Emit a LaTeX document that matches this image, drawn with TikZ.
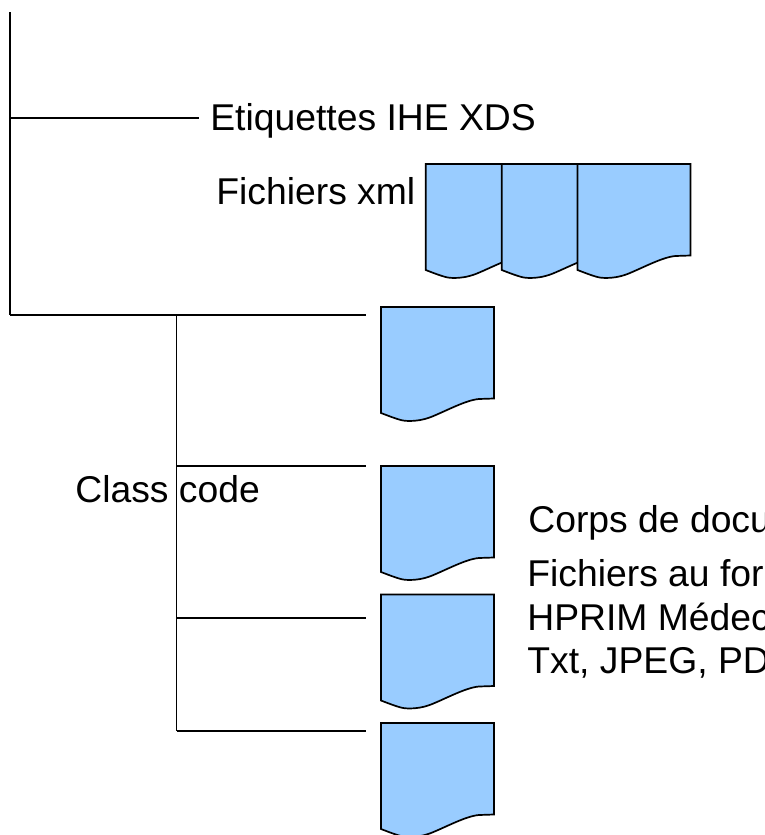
\documentclass[tikz,border=0pt]{standalone}
\usepackage{fontspec}
\setmainfont{Liberation Sans}
\usetikzlibrary{positioning}
\definecolor{docblue}{HTML}{99CCFF}
\newcommand{\docpage}[2]{
        \begin{scope}[shift={(#2)}]
            \node[docbox] (#1) at (0, 0) {};
            \draw[docline] (0, 0) -- (113, 0) -- (113, 91.5) -- (98, 92) .. controls (85, 93) and (65, 104) .. (50, 110) .. controls (42, 113) and (35, 114) .. (28, 114) .. controls (22, 114) and (18, 113) .. (0, 106) -- cycle;
        \end{scope}
}
\begin{document}
\begin{tikzpicture}[x=1pt, y=-1pt, line width=1.7pt,
        lbl/.style={anchor=base west, inner ysep=0pt, inner xsep=0pt, font=\fontsize{37.3}{43}\selectfont},
        docbox/.style={anchor=north west, minimum width=113pt, minimum height=114pt, inner sep=0pt},
        docline/.style={draw=black, fill=docblue},
        branch/.style={shorten >=15pt}]
        \useasboundingbox (0, 0) rectangle (764, 835);

        \coordinate (top) at (10, 12);
        \coordinate (root) at (10, 315);
        \coordinate (tag) at (10, 118);
        \coordinate (fork) at (176.5, 315);
        \coordinate (b2) at (176.5, 466);
        \coordinate (b3) at (176.5, 618);
        \coordinate (b4) at (176.5, 731);

        \node[lbl, inner xsep=10.5pt] (etiq) at (199, 130) {Etiquettes IHE XDS};
        \node[lbl] (xml) at (215.5, 204) {Fichiers xml};
        \node[lbl] (class) at (74.5, 502) {Class code};
        \node[lbl] (corps) at (527.5, 532) {Corps de docu};
        \node[lbl] (f1) at (526.5, 586) {Fichiers au for};
        \node[lbl] (f2) at (526.5, 630) {HPRIM Médec};
        \node[lbl] (f3) at (526.5, 673) {Txt, JPEG, PD};

        \docpage{x1}{425.7, 164}
        \docpage{x2}{501.7, 164}
        \docpage{x3}{577.5, 164}
        \docpage{d1}{381, 307}
        \docpage{d2}{381, 466}
        \docpage{d3}{381, 594.5}
        \docpage{d4}{381, 723}

        \draw (top) -- (root);
        \draw (tag) -- (tag -| etiq.west);
        \draw (fork) -- (b4);
        \draw[branch] (root) -- (root -| d1.west);
        \draw[branch] (b2) -- (b2 -| d2.west);
        \draw[branch] (b3) -- (b3 -| d3.west);
        \draw[branch] (b4) -- (b4 -| d4.west);
    \end{tikzpicture}
\end{document}
